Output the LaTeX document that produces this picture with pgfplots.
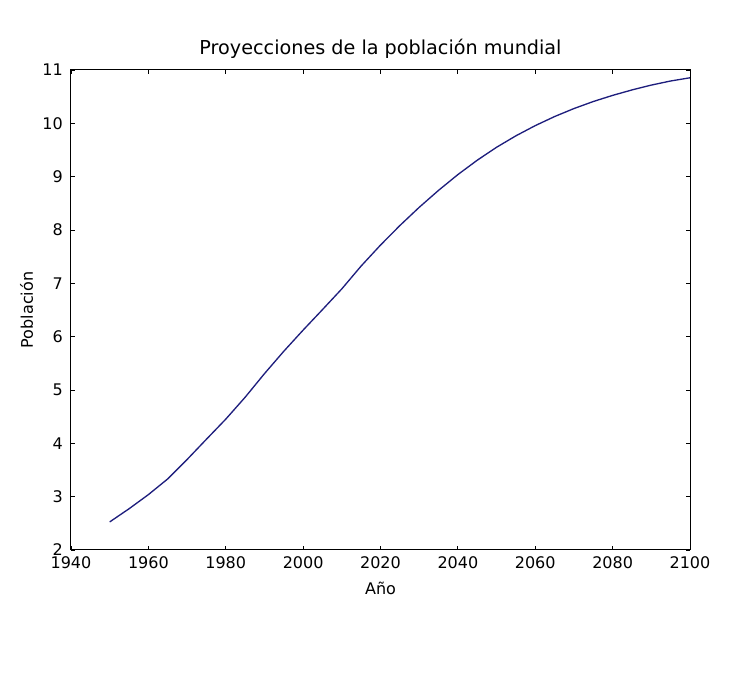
\documentclass[border=0pt]{standalone}
\usepackage{fontspec}
\setmainfont{DejaVu Sans}
\usepackage{pgfplots}
\pgfplotsset{compat=1.18}

\definecolor{linea}{RGB}{30,30,125}

% Proyeccion de la poblacion mundial (miles de millones)
\pgfplotstableread{
anio pob
1950 2.526
1955 2.773
1960 3.038
1965 3.333
1970 3.696
1975 4.076
1980 4.453
1985 4.863
1990 5.306
1995 5.726
2000 6.123
2005 6.507
2010 6.896
2015 7.325
2020 7.717
2025 8.083
2030 8.425
2035 8.743
2040 9.039
2045 9.308
2050 9.551
2055 9.766
2060 9.957
2065 10.127
2070 10.277
2075 10.409
2080 10.524
2085 10.626
2090 10.717
2095 10.794
2100 10.854
}\poblacion

\begin{document}
\begin{tikzpicture}[font=\fontsize{12pt}{14pt}\selectfont]
    \begin{axis}[
        scale only axis,
        width=464.25pt,
        height=360pt,
        xmin=1940, xmax=2100,
        ymin=2, ymax=11,
        xtick={1940,1960,...,2100},
        ytick={2,3,...,11},
        /pgf/number format/assume math mode=true,
        /pgf/number format/1000 sep={},
        axis line style={line width=0.75pt},
        major tick length=3pt,
        tick style={black, line width=0.6pt},
        tick align=inside,
        tick label style={font=\fontsize{12pt}{14pt}\selectfont},
        label style={font=\fontsize{12pt}{14pt}\selectfont},
        xticklabel style={anchor=base, inner sep=0pt, yshift=-14.25pt},
        yticklabel style={anchor=east, inner sep=0pt, xshift=-6pt},
        title={Proyecciones de la población mundial},
        title style={at={(axis description cs:0.5,1.0146)}, anchor=base, inner sep=0pt,
            font=\fontsize{14.4pt}{17pt}\selectfont},
        xlabel={Año},
        xlabel style={at={(axis description cs:0.5,-0.0917)}, anchor=base, inner sep=0pt},
        ylabel={Población},
        ylabel style={at={(axis description cs:-0.0614,0.5)}, anchor=base, inner sep=0pt},
    ]
    \addplot[linea, line width=1pt, no markers] table[x=anio, y=pob] {\poblacion};
    \end{axis}
    \pgfresetboundingbox
    \path (-53.25pt,-97.5pt) rectangle (509.25pt,412.5pt);
\end{tikzpicture}
\end{document}
